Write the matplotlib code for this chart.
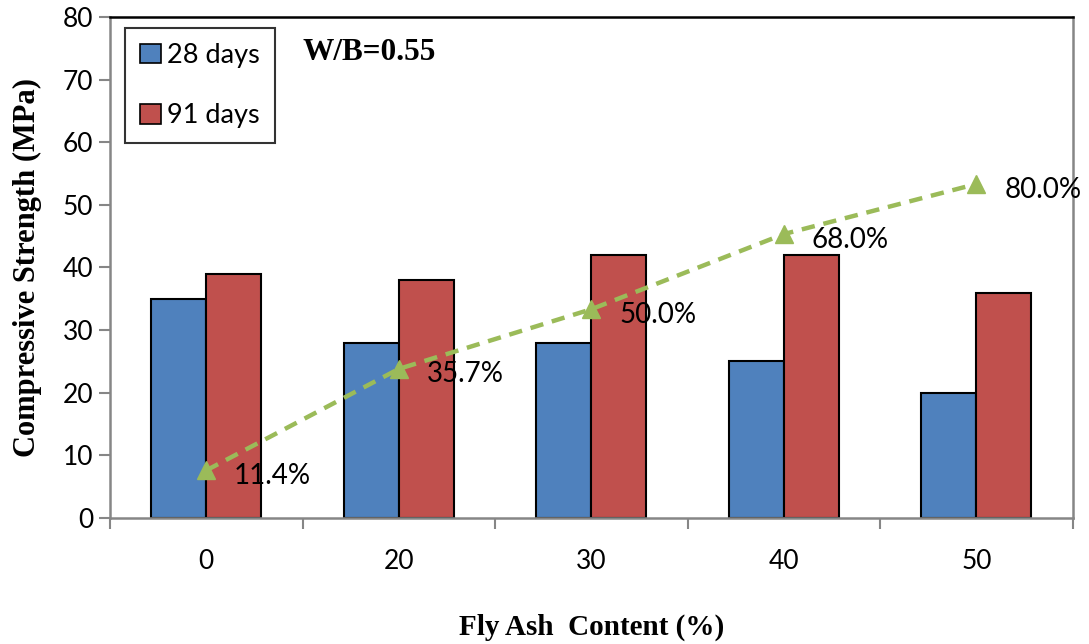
import numpy as np
import matplotlib.pyplot as plt
from matplotlib.patches import Patch

# data
categories = ['0', '20', '30', '40', '50']
days28 = [35, 28, 28, 25, 20]
days91 = [39, 38, 42, 42, 36]
ratio_pct = [11.4, 35.7, 50.0, 68.0, 80.0]
ratio_labels = ['11.4%', '35.7%', '50.0%', '68.0%', '80.0%']

blue = '#4F81BD'
red = '#C0504D'
green = '#9BBB59'
gray = '#868686'

fig = plt.figure(figsize=(10.89, 6.44), dpi=100)
ax = fig.add_axes([0.101, 0.1957, 0.884, 0.7779])

x = np.arange(len(categories))
w = 0.286
ax.bar(x - w/2, days28, w, color=blue, edgecolor='black', linewidth=1.5, zorder=2)
ax.bar(x + w/2, days91, w, color=red, edgecolor='black', linewidth=1.5, zorder=2)

ax.set_xlim(-0.5, len(categories) - 0.5)
ax.set_ylim(0, 80)
ax.set_yticks(np.arange(0, 81, 10))
ax.set_xticks(x)
ax.set_xticklabels(categories)
ax.set_xticks(np.arange(-0.5, len(categories), 1), minor=True)
ax.tick_params(axis='x', which='major', length=0, pad=22, labelsize=19)
ax.tick_params(axis='x', which='minor', length=8, width=1.5, color=gray, direction='out')
ax.tick_params(axis='y', length=8, width=1.5, color=gray, direction='out', labelsize=19, pad=4)
for lab in ax.get_xticklabels() + ax.get_yticklabels():
    lab.set_family('Lato')

ax.spines['left'].set_color(gray)
ax.spines['bottom'].set_color(gray)
ax.spines['right'].set_color(gray)
ax.spines['top'].set_color('black')
for s in ax.spines.values():
    s.set_linewidth(1.8)

ax.set_ylabel('Compressive Strength (MPa)', family='Liberation Serif',
              fontweight='bold', fontsize=22, labelpad=15)
ax.set_xlabel('Fly Ash  Content (%)', family='Liberation Serif',
              fontweight='bold', fontsize=21, labelpad=29)

# percentage line sits on a hidden secondary scale (0-120)
ax2 = ax.twinx()
ax2.set_ylim(0, 120)
ax2.axis('off')
ax2.plot(x, ratio_pct, color=green, linestyle=(0, (3, 2)), linewidth=3.2,
         marker='^', markersize=13, zorder=3)
for xi, yi, lab in zip(x, ratio_pct, ratio_labels):
    ax2.annotate(lab, (xi, yi), xytext=(20, -4), textcoords='offset points',
                 ha='left', va='center', fontsize=20, family='Lato')

ax.text(0.2, 0.93, 'W/B=0.55', transform=ax.transAxes, family='Liberation Serif',
        fontweight='bold', fontsize=22.5, ha='left', va='center')

handles = [Patch(facecolor=blue, edgecolor='black', linewidth=1.2, label='28 days'),
           Patch(facecolor=red, edgecolor='black', linewidth=1.2, label='91 days')]
leg = ax.legend(handles=handles, loc='upper left', bbox_to_anchor=(0.016, 0.978),
                borderaxespad=0,
                prop={'family': 'Lato', 'size': 19.5}, frameon=True, fancybox=False,
                edgecolor='black', handlelength=0.75, handleheight=0.75,
                handletextpad=0.25, labelspacing=1.3, borderpad=0.55)
leg.get_frame().set_linewidth(1.5)

fig.savefig('out.png', dpi=100)
